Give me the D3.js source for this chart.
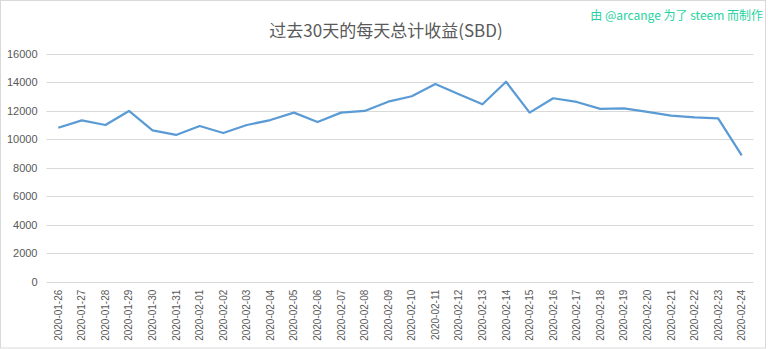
<!DOCTYPE html>
<html lang="zh">
<head>
    <meta charset="UTF-8">
    <title>过去30天的每天总计收益(SBD)</title>
    <script src="https://d3js.org/d3.v7.min.js"></script>
    <style>
        body { margin: 0; background: #fff; }
        text { font-family: "Liberation Sans", Arial, sans-serif; }
    </style>
</head>
<body>
<script>
    // data
    let dates = ["2020-01-26","2020-01-27","2020-01-28","2020-01-29","2020-01-30","2020-01-31",
        "2020-02-01","2020-02-02","2020-02-03","2020-02-04","2020-02-05","2020-02-06","2020-02-07",
        "2020-02-08","2020-02-09","2020-02-10","2020-02-11","2020-02-12","2020-02-13","2020-02-14",
        "2020-02-15","2020-02-16","2020-02-17","2020-02-18","2020-02-19","2020-02-20","2020-02-21",
        "2020-02-22","2020-02-23","2020-02-24"];
    let sbd = [10820, 11340, 11010, 12000, 10640, 10310, 10940, 10450, 11010, 11360, 11880, 11220,
        11880, 12000, 12650, 13030, 13890, 13170, 12470, 14050, 11880, 12890, 12630, 12140, 12180,
        11930, 11670, 11550, 11480, 8880];
    let yTicks = [0, 2000, 4000, 6000, 8000, 10000, 12000, 14000, 16000];

    let width = 768, height = 349;
    let margin = {left: 46.5, right: 14.5, top: 54, bottom: 67.3};

    let svg = d3.select("body").append("svg")
        .attr("width", width)
        .attr("height", height);

    // chart border
    svg.append("rect")
        .attr("x", 0.5).attr("y", 0.5)
        .attr("width", width - 3).attr("height", height - 1.5)
        .style("fill", "#fff")
        .style("stroke", "#d9d9d9");

    let x = d3.scaleBand()
        .domain(dates)
        .range([margin.left, width - margin.right]);
    let y = d3.scaleLinear()
        .domain([0, 16000])
        .range([height - margin.bottom, margin.top]);

    // gridlines
    svg.append("g")
        .selectAll("line").data(yTicks)
        .enter().append("line")
        .attr("x1", margin.left).attr("x2", width - margin.right)
        .attr("y1", d => Math.round(y(d)) + 0.5)
        .attr("y2", d => Math.round(y(d)) + 0.5)
        .style("stroke", "#d9d9d9")
        .style("stroke-width", 1);

    // y axis labels
    let yAxis = svg.append("g")
        .attr("transform", `translate(${margin.left},0)`)
        .call(d3.axisLeft(y).tickValues(yTicks).tickSize(0).tickPadding(9).tickFormat(d3.format("d")));
    yAxis.select(".domain").remove();
    yAxis.selectAll("text")
        .style("font-size", "11px")
        .style("fill", "#595959");

    // x axis labels
    let xAxis = svg.append("g")
        .attr("transform", `translate(0,${height - margin.bottom})`)
        .call(d3.axisBottom(x).tickSize(0).tickPadding(0));
    xAxis.select(".domain").remove();
    xAxis.selectAll("text")
        .style("font-size", "10px")
        .style("fill", "#595959")
        .style("text-anchor", "end")
        .attr("dy", null)
        .attr("y", 0)
        .attr("transform", "rotate(-90) translate(-8,3.5)");

    // the line
    let line = d3.line()
        .x((d, i) => x(dates[i]) + x.bandwidth() / 2)
        .y(d => y(d));
    svg.append("path")
        .datum(sbd)
        .attr("d", line)
        .style("fill", "none")
        .style("stroke", "#5b9bd5")
        .style("stroke-width", 2.25)
        .style("stroke-linejoin", "round");

    // title
    svg.append("text")
        .attr("x", 386).attr("y", 37)
        .attr("text-anchor", "middle")
        .style("font-family", "'Noto Sans CJK SC', sans-serif")
        .style("font-size", "17px")
        .style("fill", "#595959")
        .text("过去30天的每天总计收益(SBD)");

    // watermark
    svg.append("text")
        .attr("x", 763).attr("y", 20)
        .attr("text-anchor", "end")
        .style("font-family", "'Noto Sans CJK SC', sans-serif")
        .style("font-size", "12px")
        .style("fill", "#1fd3a0")
        .text("由 @arcange 为了 steem 而制作");
</script>
</body>
</html>
